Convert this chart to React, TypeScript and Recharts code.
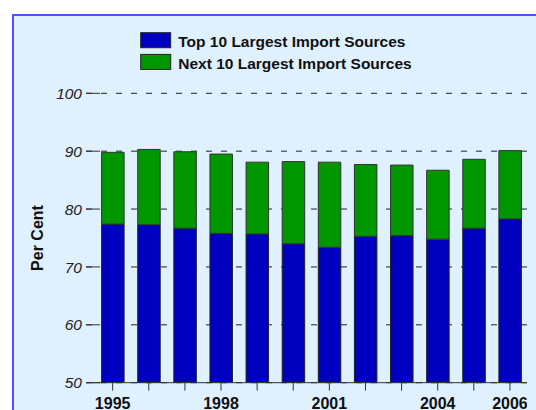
import React from 'react';
import { BarChart, Bar, XAxis, YAxis, CartesianGrid } from 'recharts';

const years = ['1995', '1996', '1997', '1998', '1999', '2000', '2001', '2002', '2003', '2004', '2005', '2006'];
const top10 = [77.4, 77.3, 76.7, 75.8, 75.7, 74.0, 73.4, 75.3, 75.4, 74.8, 76.7, 78.3];
const next10 = [12.4, 13.0, 13.2, 13.7, 12.4, 14.2, 14.7, 12.4, 12.2, 11.9, 11.9, 11.8];
const yTicks = [50, 60, 70, 80, 90, 100];
const labeledYears = ['1995', '1998', '2001', '2004', '2006'];
const seriesNames = ['Top 10 Largest Import Sources', 'Next 10 Largest Import Sources'];
const seriesColors = ['#0000c0', '#009600'];

const data = years.map((y, i) => ({ year: y, top: top10[i], next: next10[i] }));

const FONT = '"Liberation Sans", Arial, Helvetica, sans-serif';
const PANEL = '#dff0ff';

const YTick = (props: any) => {
  const { x, y, payload } = props;
  return (
    <g>
      <line x1={x} x2={x + 14} y1={y} y2={y} stroke="#333" strokeWidth={1} />
      <text x={x - 4} y={y} dy="0.36em" textAnchor="end" fontFamily={FONT} fontSize={15.5} fontStyle="italic" fill="#222">
        {payload.value}
      </text>
    </g>
  );
};

const XTick = (props: any) => {
  const { x, y, payload } = props;
  if (!labeledYears.includes(String(payload.value))) return <g />;
  return (
    <text x={x} y={y} dy="0.71em" textAnchor="middle" fontFamily={FONT} fontSize={16} fontWeight="bold" fill="#111">
      {payload.value}
    </text>
  );
};

const LegendBox = () => (
  <svg width={536} height={80} style={{ position: 'absolute', left: 0, top: 0, display: 'block' }}>
    {seriesNames.map((name, i) => (
      <g key={name}>
        <rect x={140.7} y={32.7 + i * 21.7} width={30} height={15} fill={seriesColors[i]} stroke="#222" strokeWidth={1} />
        <text x={178.3} y={47.3 + i * 21.4} fontFamily={FONT} fontSize={15.5} fontWeight="bold" fill="#111">
          {name}
        </text>
      </g>
    ))}
  </svg>
);

const YLabel = (props: any) => {
  const vb = props.viewBox || { y: 93, height: 290 };
  const cy = vb.y + vb.height / 2;
  return (
    <text x={42.7} y={cy} transform={`rotate(-90, 42.7, ${cy})`} textAnchor="middle" fontFamily={FONT} fontSize={16} fontWeight="bold" fill="#111">
      Per Cent
    </text>
  );
};

export default function App() {
  return (
    <div style={{ position: 'relative', width: 536, height: 410, overflow: 'hidden', background: '#fff' }}>
      <style>{`html,body{margin:0;padding:0;overflow:hidden;}`}</style>
      <div
        style={{
          position: 'absolute',
          left: 12,
          top: 14,
          width: 600,
          height: 500,
          background: PANEL,
          borderTop: '2px solid #5050ff',
          borderLeft: '2px solid #5050ff',
          boxSizing: 'border-box',
        }}
      />
      <div style={{ position: 'absolute', left: 0, top: 0 }}>
        <BarChart width={536} height={410} data={data} margin={{ top: 93.3, right: 8, bottom: 0, left: 0 }}>
          <CartesianGrid horizontal vertical={false} stroke="#222" strokeDasharray="6 9" />
          <XAxis
            dataKey="year"
            interval={0}
            height={27.3}
            padding={{ left: 8.6, right: 0 }}
            tickSize={8}
            tickMargin={7}
            tick={<XTick />}
            tickLine={{ stroke: '#333' }}
            axisLine={{ stroke: '#333' }}
          />
          <YAxis
            width={86}
            domain={[50, 100]}
            ticks={yTicks}
            allowDataOverflow
            axisLine={false}
            tickLine={false}
            tickSize={0}
            tickMargin={0}
            tick={<YTick />}
            label={<YLabel />}
          />
          <Bar dataKey="top" name={seriesNames[0]} stackId="a" fill={seriesColors[0]} stroke="#222" strokeWidth={1} barSize={22.5} isAnimationActive={false} />
          <Bar dataKey="next" name={seriesNames[1]} stackId="a" fill={seriesColors[1]} stroke="#333" strokeWidth={1} barSize={22.5} isAnimationActive={false} />
        </BarChart>
      </div>
      <div style={{ position: 'absolute', left: 527, top: 16, width: 9, height: 394, background: PANEL }} />
      <LegendBox />
    </div>
  );
}
